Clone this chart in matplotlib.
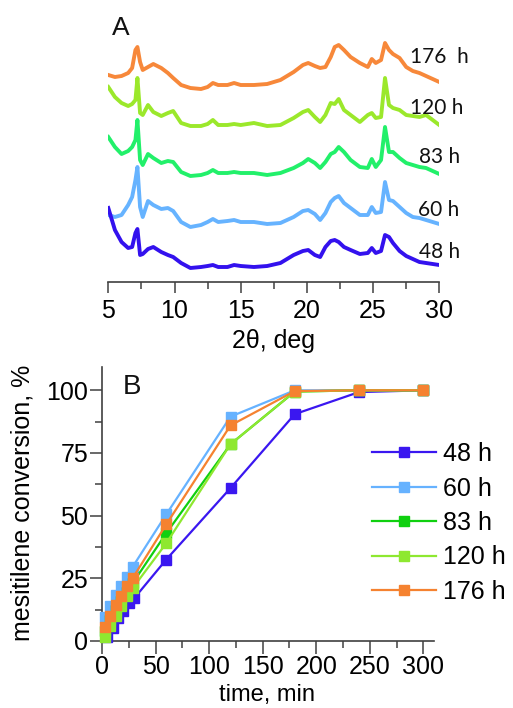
import matplotlib
matplotlib.use("Agg")
import matplotlib.pyplot as plt
from matplotlib.ticker import MultipleLocator

plt.rcParams['font.family'] = ['Liberation Sans', 'DejaVu Sans']

# ---------------- Panel A: XRD patterns (stacked, a.u.) ----------------
two_theta = [5, 5.5, 6, 6.5, 6.8, 7.05, 7.2, 7.4, 7.6, 8.0, 8.4, 9.0, 9.5, 9.9, 10.5,
             11.2, 12, 12.5, 12.9, 13.3, 14, 14.5, 15, 16, 17, 18, 19, 19.7, 20.1, 20.6,
             21.0, 21.4, 21.8, 22.1, 22.4, 22.8, 23.3, 24, 24.6, 24.9, 25.2, 25.6, 25.9,
             26.2, 26.5, 27, 27.5, 28, 28.5, 29, 29.5, 30]

xrd_176 = [207, 205, 206, 209, 214, 232, 235, 220, 212, 215, 218, 214, 209, 204, 197,
           194, 193, 195, 199, 197, 197, 199, 197, 197, 198, 202, 210, 217, 219, 216,
           214, 215, 225, 235, 237, 232, 225, 219, 215, 223, 219, 222, 239, 232, 228,
           224, 215, 211, 209, 206, 203, 200]
xrd_120 = [195, 185, 179, 176, 178, 182, 204, 169, 167, 177, 170, 166, 169, 171, 159,
           156, 156, 158, 162, 157, 157, 158, 157, 159, 156, 157, 164, 170, 172, 165,
           160, 167, 179, 178, 183, 172, 167, 160, 167, 169, 164, 165, 204, 177, 174,
           172, 167, 166, 165, 167, 162, 157]
xrd_83 = [145, 135, 128, 131, 135, 142, 162, 122, 117, 128, 124, 119, 121, 120, 110,
          106, 107, 109, 112, 109, 109, 110, 109, 109, 107, 109, 114, 119, 123, 119,
          114, 120, 128, 130, 135, 130, 122, 115, 114, 123, 115, 122, 155, 130, 130,
          124, 119, 117, 115, 114, 111, 108]
xrd_60 = [67, 65, 67, 77, 85, 102, 115, 75, 65, 81, 77, 73, 74, 71, 60,
          55, 57, 60, 63, 60, 61, 62, 60, 60, 58, 59, 65, 71, 72, 68,
          62, 69, 80, 84, 86, 79, 74, 67, 67, 75, 69, 70, 100, 82, 81,
          75, 69, 65, 64, 62, 60, 58]
xrd_48 = [74, 52, 40, 34, 35, 49, 53, 27, 28, 33, 35, 30, 27, 25, 19,
          14, 15, 16, 17, 15, 15, 17, 16, 15, 16, 19, 27, 31, 32, 27,
          25, 35, 41, 42, 40, 35, 32, 28, 29, 34, 29, 31, 47, 45, 39,
          31, 26, 23, 20, 19, 18, 17]

xrd_labels = ["176  h", "120 h", "83 h", "60 h", "48 h"]
xrd_colors = ['#f7883a', '#9be82b', '#22f06a', '#66b3ff', '#3311ee']

# ---------------- Panel B: conversion kinetics ----------------
series_labels = ["48 h", "60 h", "83 h", "120 h", "176 h"]
time_48 = [5, 10, 15, 20, 25, 30, 60, 120, 180, 240, 300]
time_other = [2.5, 7.5, 13, 18, 23, 28.5, 60, 120, 180, 240, 300]
conv_48 = [1.5, 5.3, 9, 12, 15, 17, 32.5, 61, 90.5, 99.3, 100]
conv_60 = [9.5, 14, 18.5, 22, 25.5, 29.5, 50.5, 89.5, 100, 100, 100]
conv_83 = [4, 8.5, 12.5, 16, 19.5, 23, 43, 78.5, 99.5, 100, 100]
conv_120 = [1.5, 6, 10, 14, 18, 21, 39, 78.5, 99.5, 100, 100]
conv_176 = [5.5, 10, 14.5, 18, 22, 25, 46.5, 86, 99.7, 100, 100]
series_colors = ['#3a17f0', '#66b2ff', '#10d010', '#8ee830', '#f58230']

W, H = 513, 708
fig = plt.figure(figsize=(W / 100, H / 100), dpi=100)

spine_col = '#404040'
FS = 18

# ---- Panel A ----
ax1 = fig.add_axes([108.3 / W, 1 - 282 / H, 331 / W, 252 / H])
for y, c in zip([xrd_176, xrd_120, xrd_83, xrd_60, xrd_48], xrd_colors):
    ax1.plot(two_theta, y, color=c, lw=2.8, solid_joinstyle='round')
ax1.set_xlim(5, 30)
ax1.set_ylim(0, 252)
for s in ['left', 'right', 'top']:
    ax1.spines[s].set_visible(False)
ax1.spines['bottom'].set_color(spine_col)
ax1.spines['bottom'].set_linewidth(1.2)
ax1.set_yticks([])
ax1.xaxis.set_major_locator(MultipleLocator(5))
ax1.xaxis.set_minor_locator(MultipleLocator(2.5))
ax1.tick_params(axis='x', which='major', direction='out', length=8, width=1.1,
                color=spine_col, labelsize=FS, pad=4)
ax1.tick_params(axis='x', which='minor', direction='out', length=5, width=1.1,
                color=spine_col)

label_pos = [(27.8, 225), (27.8, 174), (28.5, 125), (28.4, 72), (28.5, 30)]
for (lx, ly), t in zip(label_pos, xrd_labels):
    ax1.text(lx, ly, t, fontsize=15, family=['Lato', 'DejaVu Sans'],
             ha='left', va='center', color='#111111')
ax1.text(5.3, 254, "A", fontsize=19, ha='left', va='center', color='#111111')
fig.text(273 / W, 1 - 341 / H, "2θ, deg", fontsize=FS, ha='center', va='center')

# ---- Panel B ----
ax2 = fig.add_axes([102 / W, 1 - 641 / H, 332 / W, 274 / H])
times = [time_48, time_other, time_other, time_other, time_other]
convs = [conv_48, conv_60, conv_83, conv_120, conv_176]
for t, y, c, lab in zip(times, convs, series_colors, series_labels):
    ax2.plot(t, y, color=c, lw=1.6, marker='s', markersize=7, label=lab,
             clip_on=False, zorder=3)
ax2.set_xlim(0, 310)
ax2.set_ylim(0, 109.3)
for s in ['right', 'top']:
    ax2.spines[s].set_visible(False)
for s in ['left', 'bottom']:
    ax2.spines[s].set_color(spine_col)
    ax2.spines[s].set_linewidth(1.2)
ax2.xaxis.set_major_locator(MultipleLocator(50))
ax2.xaxis.set_minor_locator(MultipleLocator(25))
ax2.yaxis.set_major_locator(MultipleLocator(25))
ax2.yaxis.set_minor_locator(MultipleLocator(12.5))
ax2.tick_params(axis='both', which='major', direction='out', length=9, width=1.1,
                color=spine_col, labelsize=FS)
ax2.tick_params(axis='both', which='minor', direction='out', length=5, width=1.1,
                color=spine_col)
ax2.tick_params(axis='y', which='major', pad=1)
ax2.tick_params(axis='x', which='major', pad=1)
ax2.text(19.6, 101.2, "B", fontsize=20, ha='left', va='center', color='#111111')

fig.text(23 / W, 1 - 503 / H, "mesitilene conversion, %", fontsize=FS,
         rotation=90, ha='center', va='center')
fig.text(267 / W, 1.5 / H, "time, min", fontsize=17, ha='center', va='bottom')

leg = ax2.legend(loc='upper left', bbox_to_anchor=(372 / W, 1 - 442 / H),
                 bbox_transform=fig.transFigure, frameon=False, fontsize=FS,
                 handlelength=2.55, handletextpad=0.3, labelspacing=0.42,
                 borderpad=0, borderaxespad=0)

fig.savefig("out.png", dpi=100)
